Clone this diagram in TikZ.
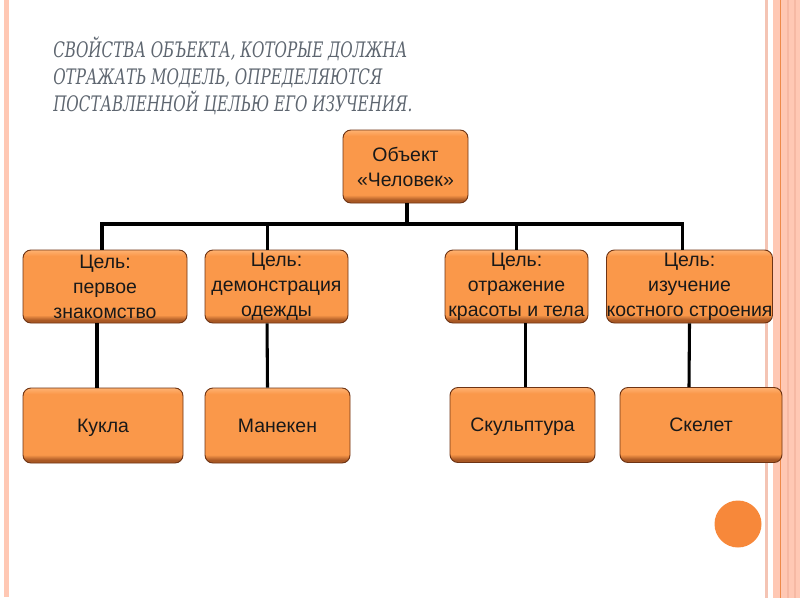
\documentclass[tikz,border=0pt]{standalone}
\usepackage{fontspec}
\setmainfont{Liberation Sans}
\newfontfamily\titlefont[FakeStretch=0.79]{DejaVu Serif Condensed}
\newfontfamily\boxfont{Liberation Sans}
\definecolor{stripe}{HTML}{FFC8B4}
\definecolor{stripeline}{HTML}{EE8A4A}
\definecolor{stripedark}{HTML}{F6B9A4}
\definecolor{thinline}{HTML}{F4C4B4}
\definecolor{titlecol}{HTML}{5E6670}
\definecolor{boxfill}{HTML}{FA984A}
\definecolor{boxdark}{HTML}{A95824}
\definecolor{boxlight}{HTML}{FFB272}
\definecolor{boxline}{HTML}{6E3414}
\definecolor{dotcol}{HTML}{F7883A}
\pgfdeclareverticalshading{bevel}{100bp}{color(0bp)=(boxdark); color(27bp)=(boxdark); color(30.5bp)=(boxfill); color(71bp)=(boxfill); color(75bp)=(boxlight); color(100bp)=(boxlight)}
\tikzset{
  box/.style={rounded corners=6pt, draw=boxline, line width=0.7pt, shading=bevel,
    font=\boxfont\fontsize{14.6pt}{18.8pt}\selectfont, align=center, inner sep=0pt, text=black!90},
  mbox/.style={box, text depth=0pt},
  conn/.style={line width=2.3pt, black},
}
\begin{document}
\begin{tikzpicture}[x=0.75pt,y=-0.75pt]
\useasboundingbox (0,0) rectangle (800,600);
% frame stripes
\fill[stripe] (4,0) rectangle (8.7,597);
\fill[thinline] (765,0) rectangle (768,598);
\fill[stripe] (773,0) rectangle (800,598);
\fill[stripedark] (787,0) rectangle (789,598);
\fill[stripedark] (794,0) rectangle (796,598);
\fill[stripeline] (779.5,0) rectangle (780.7,598);
\fill[dotcol] (738,524) circle (23.5);
% title
\node[anchor=base west, align=left, text=titlecol,
  font=\titlefont\itshape\fontsize{16pt}{20.25pt}\selectfont, inner sep=0pt]
  (title) at (53,111) {СВОЙСТВА ОБЪЕКТА, КОТОРЫЕ ДОЛЖНА\\ОТРАЖАТЬ МОДЕЛЬ, ОПРЕДЕЛЯЮТСЯ\\ПОСТАВЛЕННОЙ ЦЕЛЬЮ ЕГО ИЗУЧЕНИЯ.};
% boxes
\node[box, minimum width=125*0.75pt, minimum height=73*0.75pt] (top) at (405.5,166.5) {Объект\\«Человек»};
\node[box, minimum width=164*0.75pt, minimum height=73*0.75pt] (g1) at (105,286.5) {Цель:\\первое\\знакомство};
\node[box, minimum width=143*0.75pt, minimum height=73*0.75pt] (g2) at (276.5,286.5) {Цель:\\демонстрация\\одежды};
\node[box, minimum width=143*0.75pt, minimum height=73*0.75pt] (g3) at (516.5,286.5) {Цель:\\отражение\\красоты и тела};
\node[box, minimum width=165*0.75pt, minimum height=73*0.75pt] (g4) at (689.5,286.5) {Цель:\\изучение\\костного строения};
\node[mbox, minimum width=160*0.75pt, minimum height=75*0.75pt] (m1) at (103,425.5) {Кукла};
\node[mbox, minimum width=145*0.75pt, minimum height=75*0.75pt] (m2) at (277.5,425.5) {Манекен};
\node[mbox, minimum width=145*0.75pt, minimum height=75*0.75pt] (m3) at (522.5,425) {Скульптура};
\node[mbox, minimum width=162*0.75pt, minimum height=75*0.75pt] (m4) at (701,425) {Скелет};
% connectors
\coordinate (bus) at (407,224);
\draw[conn] ([xshift=1.1pt]top.south) -- ([xshift=1.1pt]top.south |- bus);
\draw[conn] ([xshift=-2.25pt]g1.north) -- ([xshift=-2.25pt]g1.north |- bus) -- ([xshift=-5.6pt]g4.north |- bus) -- ([xshift=-5.6pt]g4.north);
\draw[conn] ([xshift=-7.1pt]g2.north |- bus) -- ([xshift=-7.1pt]g2.north);
\draw[conn] (g3.north |- bus) -- (g3.north);
\draw[conn] ([xshift=-6pt]g1.south) -- ([xshift=-4.5pt]m1.north);
\draw[conn] ([xshift=-7.1pt]g2.south) -- ([xshift=-7.5pt]m2.north);
\draw[conn] ([xshift=6.4pt]g3.south) -- ([xshift=1.9pt]m3.north);
\draw[conn] (g4.south) -- ([xshift=-9pt]m4.north);
\end{tikzpicture}
\end{document}
